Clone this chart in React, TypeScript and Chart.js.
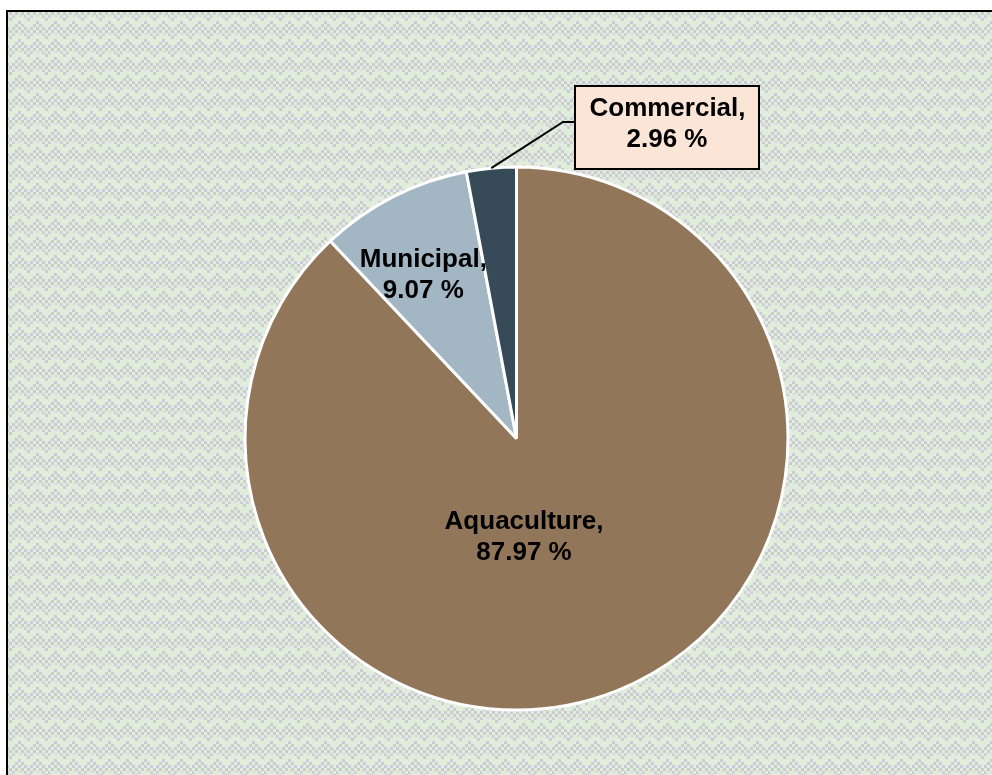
import React, { useEffect, useRef } from "react";
import { Chart, registerables } from "chart.js";

Chart.register(...registerables);

const categories = ["Aquaculture", "Municipal", "Commercial"];
const shares = [87.97, 9.07, 2.96];
const sliceColors = ["#92765a", "#a3b6c4", "#374a58"];

function makePattern(ctx: CanvasRenderingContext2D) {
  const W = 18, H = 18;
  const t = document.createElement("canvas");
  t.width = W;
  t.height = H;
  const c = t.getContext("2d")!;
  c.fillStyle = "#dfedda";
  c.fillRect(0, 0, W, H);
  c.fillStyle = "#cccbd5";
  // blocky chevron zigzag, one per tile
  for (let x = 0; x < W; x += 3) {
    const k = x < W / 2 ? x / 3 : (W - x) / 3;
    const y = 3 + k * 3;
    c.fillRect(x, y % H, 3, 3);
    c.fillRect(x, (y + 6) % H, 3, 3);
  }
  // faint secondary dots
  c.fillStyle = "#d6d8d8";
  for (let x = 0; x < W; x += 6) {
    c.fillRect(x + 1, 15, 2, 2);
  }
  return ctx.createPattern(t, "repeat")!;
}

const bgPlugin = {
  id: "bgPlugin",
  beforeDraw(chart: any) {
    const ctx = chart.ctx as CanvasRenderingContext2D;
    ctx.save();
    ctx.fillStyle = "#ffffff";
    ctx.fillRect(0, 0, chart.width, chart.height);
    ctx.fillStyle = makePattern(ctx);
    ctx.fillRect(8, 11, chart.width - 8, chart.height - 11);
    ctx.fillStyle = "#000000";
    ctx.fillRect(6, 10, 2, chart.height - 10);
    ctx.fillRect(6, 10, chart.width - 6, 2);
    ctx.restore();
  },
};

// label placement: angle (deg, clockwise from top) and radius fraction
const labelPlace = [
  { angle: 175.6, frac: 0.362 },
  { angle: 330.4, frac: 0.695 },
];

const labelPlugin = {
  id: "labelPlugin",
  afterDraw(chart: any) {
    const ctx = chart.ctx as CanvasRenderingContext2D;
    const meta = chart.getDatasetMeta(0);
    const arc0 = meta.data[0];
    const cx = arc0.x;
    const cy = arc0.y;
    const R = arc0.outerRadius;
    ctx.save();
    ctx.font = "bold 26px 'Liberation Sans', Arial, sans-serif";
    ctx.fillStyle = "#000000";
    ctx.textAlign = "center";
    ctx.textBaseline = "middle";
    labelPlace.forEach((p, i) => {
      const a = (p.angle * Math.PI) / 180;
      const x = cx + Math.sin(a) * R * p.frac;
      const y = cy - Math.cos(a) * R * p.frac;
      ctx.fillText(categories[i] + ",", x, y - 15);
      ctx.fillText(shares[i].toFixed(2) + " %", x, y + 16);
    });
    // callout for Commercial
    const arc = meta.data[2];
    const mid = (arc.startAngle + arc.endAngle) / 2;
    const ex = cx + Math.cos(mid) * R;
    const ey = cy + Math.sin(mid) * R;
    const bx = 575, by = 86, bw = 184, bh = 83;
    ctx.strokeStyle = "#000000";
    ctx.lineWidth = 2;
    ctx.beginPath();
    ctx.moveTo(ex, ey);
    ctx.lineTo(563, by + 36);
    ctx.lineTo(bx, by + 36);
    ctx.stroke();
    ctx.fillStyle = "#fbe5d6";
    ctx.fillRect(bx, by, bw, bh);
    ctx.strokeRect(bx, by, bw, bh);
    ctx.fillStyle = "#000000";
    ctx.fillText(categories[2] + ",", bx + bw / 2 + 0.5, by + 23);
    ctx.fillText(shares[2].toFixed(2) + " %", bx + bw / 2, by + 54);
    ctx.restore();
  },
};

export default function App() {
  const ref = useRef<HTMLCanvasElement | null>(null);
  useEffect(() => {
    if (!ref.current) return;
    const chart = new Chart(ref.current, {
      type: "pie",
      data: {
        labels: categories,
        datasets: [
          {
            data: shares,
            backgroundColor: sliceColors,
            borderColor: "#ffffff",
            borderWidth: 3,
            hoverOffset: 0,
          },
        ],
      },
      options: {
        animation: false,
        responsive: false,
        radius: 271.5,
        layout: { padding: { left: 41, right: 0, top: 102, bottom: 0 } },
        plugins: {
          legend: { display: false },
          tooltip: { enabled: false },
        },
      } as any,
      plugins: [bgPlugin, labelPlugin],
    });
    return () => chart.destroy();
  }, []);
  return (
    <div style={{ position: "fixed", left: 0, top: 0, width: 992, height: 775 }}>
      <canvas ref={ref} width={992} height={775} style={{ display: "block", width: 992, height: 775 }} />
    </div>
  );
}
